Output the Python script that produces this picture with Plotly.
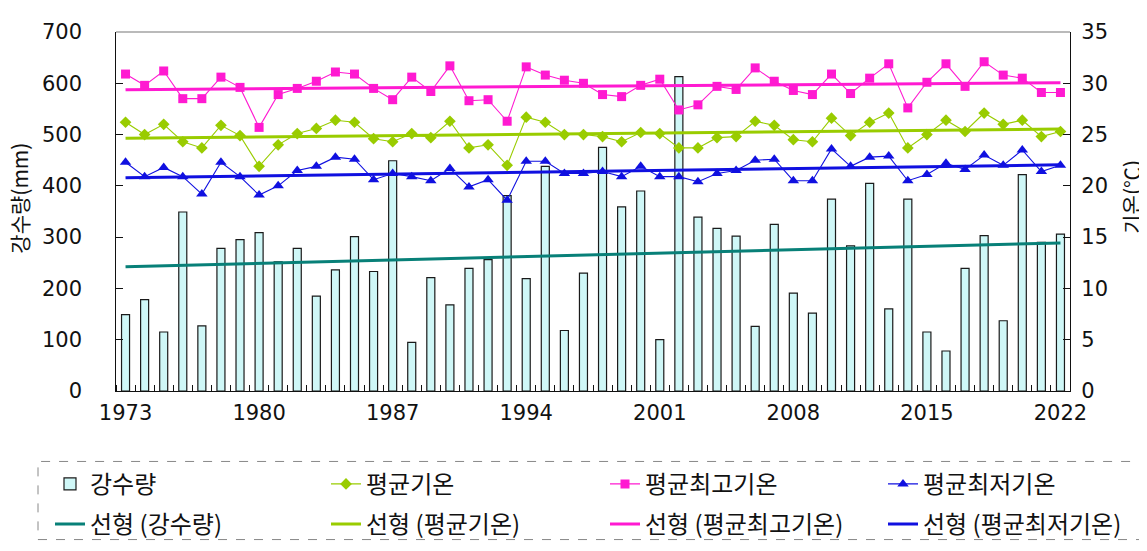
import numpy as np
import plotly.graph_objects as go

years = list(range(1973, 2023))

precip = [149, 178, 115, 349, 127, 278, 295, 309, 252, 278,
          185, 236, 301, 233, 449, 95, 221, 168, 239, 256,
          381, 219, 438, 118, 230, 475, 359, 390, 100, 613,
          339, 317, 302, 126, 325, 191, 152, 374, 283, 405,
          160, 374, 115, 78, 239, 303, 137, 422, 290, 306]

tmean = [26.2, 25.0, 26.0, 24.3, 23.7, 25.9, 24.9, 21.9, 24.0, 25.1,
         25.6, 26.4, 26.2, 24.6, 24.3, 25.1, 24.7, 26.3, 23.7, 24.0,
         22.0, 26.7, 26.2, 25.0, 25.0, 24.8, 24.3, 25.2, 25.1, 23.7,
         23.7, 24.7, 24.8, 26.3, 25.9, 24.5, 24.3, 26.6, 24.9, 26.2,
         27.1, 23.7, 25.0, 26.4, 25.3, 27.1, 26.0, 26.4, 24.8, 25.3]

tmax = [30.9, 29.8, 31.2, 28.5, 28.5, 30.6, 29.6, 25.7, 28.9, 29.5,
        30.2, 31.1, 30.9, 29.5, 28.4, 30.6, 29.2, 31.7, 28.3, 28.4,
        26.3, 31.6, 30.8, 30.3, 30.0, 28.9, 28.7, 29.8, 30.4, 27.4,
        27.9, 29.7, 29.4, 31.5, 30.2, 29.3, 28.9, 30.9, 29.0, 30.5,
        31.9, 27.6, 30.1, 31.9, 29.7, 32.1, 30.8, 30.5, 29.1, 29.1]

tmin = [22.3, 20.9, 21.8, 20.9, 19.2, 22.3, 20.9, 19.1, 20.0, 21.5,
        21.9, 22.8, 22.6, 20.6, 21.2, 20.9, 20.5, 21.7, 19.9, 20.6,
        18.6, 22.4, 22.4, 21.2, 21.2, 21.4, 20.9, 21.9, 20.9, 20.9,
        20.4, 21.2, 21.5, 22.5, 22.6, 20.5, 20.5, 23.6, 21.9, 22.8,
        22.9, 20.5, 21.1, 22.2, 21.6, 23.0, 22.0, 23.5, 21.4, 22.0]

xtick_labels = [1973, 1980, 1987, 1994, 2001, 2008, 2015, 2022]

names = ["강수량", "평균기온", "평균최고기온", "평균최저기온"]
trend_names = ["선형 (강수량)", "선형 (평균기온)", "선형 (평균최고기온)", "선형 (평균최저기온)"]


def trend(vals):
    a, b = np.polyfit(years, vals, 1)
    return [a * y + b for y in years]


C_BAR = "#cff7f7"
C_TEAL = "#088078"
C_GREEN = "#99cc00"
C_PINK = "#ff1ad1"
C_BLUE = "#1010e0"

fig = go.Figure()

fig.add_trace(go.Bar(x=years, y=precip, width=0.42, name=names[0],
                     marker=dict(color=C_BAR, line=dict(color="#1a1a1a", width=1.2)),
                     legend="legend"))
fig.add_trace(go.Scatter(x=years, y=trend(precip), mode="lines", name=trend_names[0],
                         line=dict(color=C_TEAL, width=3), legend="legend5"))

fig.add_trace(go.Scatter(x=years, y=tmean, mode="lines+markers", name=names[1], yaxis="y2",
                         line=dict(color=C_GREEN, width=1.1),
                         marker=dict(symbol="diamond", size=9, color=C_GREEN), legend="legend2"))
fig.add_trace(go.Scatter(x=years, y=tmax, mode="lines+markers", name=names[2], yaxis="y2",
                         line=dict(color=C_PINK, width=1.1),
                         marker=dict(symbol="square", size=9, color=C_PINK), legend="legend3"))
fig.add_trace(go.Scatter(x=years, y=tmin, mode="lines+markers", name=names[3], yaxis="y2",
                         line=dict(color=C_BLUE, width=1.1),
                         marker=dict(symbol="triangle-up", size=10, color=C_BLUE), legend="legend4"))

fig.add_trace(go.Scatter(x=years, y=trend(tmean), mode="lines", name=trend_names[1], yaxis="y2",
                         line=dict(color=C_GREEN, width=3), legend="legend6"))
fig.add_trace(go.Scatter(x=years, y=trend(tmax), mode="lines", name=trend_names[2], yaxis="y2",
                         line=dict(color=C_PINK, width=3), legend="legend7"))
fig.add_trace(go.Scatter(x=years, y=trend(tmin), mode="lines", name=trend_names[3], yaxis="y2",
                         line=dict(color=C_BLUE, width=3), legend="legend8"))

# plot area in px: x 108..1062, y 15..392
PL, PR, PT, PB = 108, 1062, 15, 392
PW, PH = PR - PL, PB - PT


def px_x(px):
    return (px - PL) / PW


def px_y(py):
    return (PB - py) / PH


legend_font = dict(family="Noto Sans CJK KR", size=24, color="#111111")
cols = [42, 318, 597, 875]
rows = [490, 532]
legend_cfg = {}
for i in range(8):
    key = "legend" if i == 0 else f"legend{i + 1}"
    legend_cfg[key] = dict(x=px_x(cols[i % 4]), y=px_y(rows[i // 4]), xanchor="left", yanchor="middle",
                           bgcolor="rgba(0,0,0,0)", borderwidth=0, font=legend_font)

tick_font = dict(family="DejaVu Sans", size=21, color="#111111")

fig.update_layout(
    width=1147, height=551,
    margin=dict(l=PL, r=1147 - PR, t=PT, b=551 - PB),
    paper_bgcolor="white", plot_bgcolor="white",
    showlegend=True,
    bargap=0.5,
    xaxis=dict(range=[1972.5, 2022.5], tickmode="array", tickvals=xtick_labels,
               ticktext=[str(v) for v in xtick_labels], ticks="", showgrid=False, zeroline=False,
               showline=True, linecolor="#111111", linewidth=1.2, tickfont=tick_font,
               ticklabelstandoff=3,
               minor=dict(tick0=1972.5, dtick=1, ticks="inside", ticklen=6, tickcolor="#111111",
                          showgrid=False)),
    yaxis=dict(range=[0, 700], dtick=100, ticks="inside", ticklen=7, tickcolor="#111111",
               showgrid=False, zeroline=False, showline=True, linecolor="#111111", linewidth=1.2,
               tickfont=tick_font, ticklabelstandoff=22, ticksuffix="\u00a0"),
    yaxis2=dict(range=[0, 35], dtick=5, overlaying="y", side="right", ticks="inside", ticklen=7,
                tickcolor="#111111", showgrid=False, zeroline=False, showline=True,
                linecolor="#111111", linewidth=1.2, tickfont=tick_font, ticklabelstandoff=6),
    shapes=[
        dict(type="line", xref="paper", yref="paper", x0=0, x1=1, y0=1, y1=1,
             line=dict(color="#777777", width=1.2)),
        dict(type="rect", xref="paper", yref="paper", x0=px_x(30), x1=px_x(1140),
             y0=px_y(548), y1=px_y(466), line=dict(color="#888888", width=1, dash="dash")),
    ],
    annotations=[
        dict(text="강수량(mm)", xref="paper", yref="paper", x=px_x(11), y=px_y(190),
             xanchor="center", yanchor="middle", textangle=-90, showarrow=False,
             font=dict(family="Noto Sans CJK KR", size=21, color="#111111")),
        dict(text="기온(℃)", xref="paper", yref="paper", x=px_x(1123), y=px_y(188),
             xanchor="center", yanchor="middle", textangle=-90, showarrow=False,
             font=dict(family="Noto Sans CJK KR", size=21, color="#111111")),
    ],
    **legend_cfg,
)

fig.write_html("out.html")
